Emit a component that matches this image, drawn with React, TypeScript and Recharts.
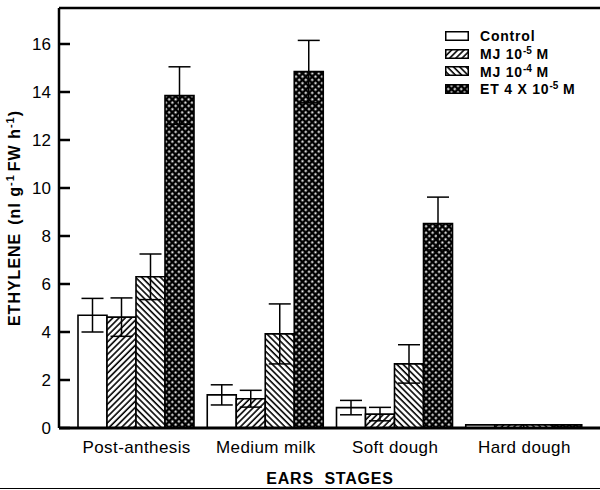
import React from 'react';
import { BarChart, Bar, XAxis, YAxis, ErrorBar, ReferenceLine, Label } from 'recharts';

const stages = ['Post-anthesis', 'Medium milk', 'Soft dough', 'Hard dough'];
const control = [4.7, 1.38, 0.85, 0.13];
const controlErr = [0.7, 0.42, 0.3, 0];
const mj5 = [4.62, 1.22, 0.58, 0.13];
const mj5Err = [0.8, 0.35, 0.28, 0];
const mj4 = [6.3, 3.92, 2.67, 0.13];
const mj4Err = [0.95, 1.25, 0.8, 0];
const et = [13.85, 14.85, 8.52, 0.13];
const etErr = [1.2, 1.3, 1.1, 0];
const yTicks = [0, 2, 4, 6, 8, 10, 12, 14, 16];

const FONT = '"Liberation Sans", Arial, Helvetica, sans-serif';

const data = stages.map((stage, i) => ({
  stage,
  control: control[i],
  controlErr: controlErr[i] || null,
  mj5: mj5[i],
  mj5Err: mj5Err[i] || null,
  mj4: mj4[i],
  mj4Err: mj4Err[i] || null,
  et: et[i],
  etErr: etErr[i] || null,
}));

const series = [
  { key: 'control', err: 'controlErr', fill: '#ffffff', label: <>Control</> },
  { key: 'mj5', err: 'mj5Err', fill: 'url(#hatchUp)', label: <>MJ 10<sup>-5</sup> M</> },
  { key: 'mj4', err: 'mj4Err', fill: 'url(#hatchDown)', label: <>MJ 10<sup>-4</sup> M</> },
  { key: 'et', err: 'etErr', fill: 'url(#checker)', label: <>ET 4 X 10<sup>-5</sup> M</> },
];

const YTick = ({ x, y, payload }: any) => (
  <g>
    <line x1={x} x2={x + 11} y1={y} y2={y} stroke="#000" strokeWidth={2.5} />
    <text x={x - 8} y={y} dy={6} textAnchor="end" fontSize={17} fontFamily={FONT} fill="#000">
      {payload.value}
    </text>
  </g>
);

const XTick = ({ x, y, payload }: any) => (
  <text x={x} y={y + 25} textAnchor="middle" fontSize={17} letterSpacing={0.4} fontFamily={FONT} fill="#000">
    {payload.value}
  </text>
);

const YLabel = () => (
  <text
    x={0}
    y={0}
    transform="translate(20, 218) rotate(-90)"
    textAnchor="middle"
    fontSize={16}
    fontWeight="bold"
    letterSpacing={1}
    fontFamily={FONT}
    fill="#000"
  >
    <tspan>ETHYLENE</tspan>
    <tspan dx={8}>(nl g</tspan>
    <tspan dy={-6} fontSize={11}>-1</tspan>
    <tspan dy={6} dx={3}>FW h</tspan>
    <tspan dy={-6} fontSize={11}>-1</tspan>
    <tspan dy={6}>)</tspan>
  </text>
);

const XLabel = () => (
  <g>
    <text x={330} y={484} textAnchor="middle" fontSize={16} fontWeight="bold" letterSpacing={0.8} fontFamily={FONT} fill="#000">
      EARS{'\u00a0\u00a0'}STAGES
    </text>
    <line x1={0} x2={600} y1={488.5} y2={488.5} stroke="#000" strokeWidth={1.2} />
  </g>
);

// legend sits over the plot, drawn as plain html so it takes no room from the chart
const LegendBox = () => (
  <div
    style={{
      position: 'absolute',
      left: 445,
      top: 27,
      fontFamily: FONT,
      fontWeight: 'bold',
      fontSize: 14,
      letterSpacing: 0.8,
      color: '#000',
    }}
  >
    {series.map(s => (
      <div key={s.key} style={{ display: 'flex', alignItems: 'center', height: 17.7, whiteSpace: 'nowrap' }}>
        <svg width={24} height={10} style={{ marginRight: 11 }}>
          <rect x={0.75} y={0.75} width={22.5} height={8.5} fill={s.fill} stroke="#000" strokeWidth={1.5} />
        </svg>
        <span style={{ lineHeight: 1 }}>{s.label}</span>
      </div>
    ))}
  </div>
);

export default function App() {
  return (
    <div style={{ position: 'absolute', left: 0, top: 0, width: 600, height: 490, background: '#fff' }}>
      <style>{`sup { font-size: 10px; vertical-align: 5px; letter-spacing: 0; }`}</style>
      <BarChart
        width={600}
        height={490}
        data={data}
        margin={{ top: 8, right: 0, left: 0, bottom: 0 }}
        barCategoryGap={6}
        barGap={0}
      >
        <defs>
          <pattern id="hatchUp" patternUnits="userSpaceOnUse" width={4.4} height={4.4} patternTransform="rotate(45)">
            <rect width={4.4} height={4.4} fill="#fff" />
            <line x1={1} y1={0} x2={1} y2={4.4} stroke="#000" strokeWidth={1.6} />
          </pattern>
          <pattern id="hatchDown" patternUnits="userSpaceOnUse" width={4.4} height={4.4} patternTransform="rotate(-45)">
            <rect width={4.4} height={4.4} fill="#fff" />
            <line x1={1} y1={0} x2={1} y2={4.4} stroke="#000" strokeWidth={1.6} />
          </pattern>
          <pattern id="checker" patternUnits="userSpaceOnUse" width={4.6} height={4.6} patternTransform="rotate(45)">
            <rect width={4.6} height={4.6} fill="#000" />
            <rect x={0.3} y={0.3} width={2} height={2} fill="#fff" />
          </pattern>
        </defs>
        <XAxis
          dataKey="stage"
          height={62}
          padding={{ left: 13, right: 11 }}
          tickLine={false}
          tickSize={0}
          tickMargin={0}
          axisLine={{ stroke: '#000', strokeWidth: 3 }}
          tick={<XTick />}
          interval={0}
          label={<Label content={<XLabel />} />}
        />
        <YAxis
          width={59}
          domain={[0, 17.5]}
          ticks={yTicks}
          tickLine={false}
          tickSize={0}
          tickMargin={0}
          axisLine={{ stroke: '#000', strokeWidth: 2.5 }}
          tick={<YTick />}
          label={<Label content={<YLabel />} />}
        />
        <ReferenceLine y={17.5} stroke="#000" strokeWidth={2.5} />
        {series.map(s => (
          <Bar key={s.key} dataKey={s.key} fill={s.fill} stroke="#000" strokeWidth={1.6} isAnimationActive={false}>
            <ErrorBar dataKey={s.err} width={11} stroke="#000" strokeWidth={1.5} isAnimationActive={false} />
          </Bar>
        ))}
      </BarChart>
      <LegendBox />
    </div>
  );
}
